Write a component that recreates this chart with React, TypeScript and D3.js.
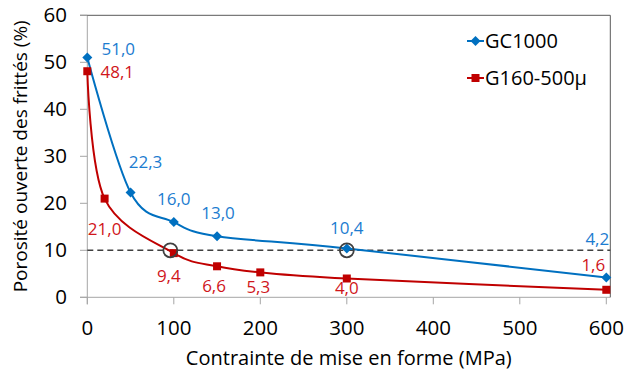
import React from "react";
import * as d3 from "d3";

const xTicks = [0, 100, 200, 300, 400, 500, 600];
const yTicks = [0, 10, 20, 30, 40, 50, 60];

const gcX = [0, 50, 100, 150, 300, 600];
const gcY = [51.0, 22.3, 16.0, 13.0, 10.4, 4.2];

const gX = [0, 20, 100, 150, 200, 300, 600];
const gY = [48.1, 21.0, 9.4, 6.6, 5.3, 4.0, 1.6];

const seriesNames = ["GC1000", "G160-500µ"];
const thresholdValue = 10;
const circledX = [96, 300];

// label placement offsets (px) relative to each point
const gcLabelOffsets = [[31, -9], [15, -30], [0, -23], [1, -23], [0, -20], [-9, -39]];
const gLabelOffsets = [[30, 1], [0, 30], [-5, 23], [-3, 20], [-2, 15], [0, 10], [-13, -25]];

const W = 624, H = 371;
const xs = d3.scaleLinear().domain([0, 600]).range([87.3, 606.3]);
const ys = d3.scaleLinear().domain([0, 60]).range([297.3, 15.3]);

const BLUE = "#0070C0";
const RED = "#C00000";
const BLUE_T = "#1C7CD0";
const RED_T = "#D0161B";
const FONT = "'Open Sans', sans-serif";

const fmt = (v: number) => v.toFixed(1).replace(".", ",");

const line = d3
  .line<[number, number]>()
  .x((d) => xs(d[0]))
  .y((d) => ys(d[1]))
  .curve(d3.curveCardinal.tension(0));

function Diamond({ x, y, c }: { x: number; y: number; c: string }) {
  const r = 5;
  return <path d={`M${x},${y - r}L${x + r},${y}L${x},${y + r}L${x - r},${y}Z`} fill={c} />;
}
function Square({ x, y, c }: { x: number; y: number; c: string }) {
  const s = 8;
  return <rect x={x - s / 2} y={y - s / 2} width={s} height={s} fill={c} />;
}

export default function App() {
  const gcPts = gcX.map((x, i) => [x, gcY[i]] as [number, number]);
  const gPts = gX.map((x, i) => [x, gY[i]] as [number, number]);
  const left = xs(0), right = 610.3, top = ys(60), bottom = ys(0);
  return (
    <svg width={W} height={H} style={{ position: "absolute", left: 0, top: 0, background: "#fff" }} fontFamily={FONT}>
      {/* axes and frame */}
      <line x1={80} x2={right} y1={bottom} y2={bottom} stroke="#A6A6A6" strokeWidth={1} />
      <line x1={left} x2={left} y1={top} y2={bottom + 7} stroke="#A6A6A6" strokeWidth={1} />
      <line x1={80} x2={right} y1={top} y2={top} stroke="#595959" strokeWidth={1} />
      <line x1={right} x2={right} y1={top} y2={bottom} stroke="#595959" strokeWidth={1} />
      {yTicks.map((t) => (
        <g key={"y" + t}>
          <line x1={80} x2={left} y1={ys(t)} y2={ys(t)} stroke="#A6A6A6" />
          <text x={67} y={ys(t)} dy="0.35em" textAnchor="end" fontSize={20.5} fill="#000">{t}</text>
        </g>
      ))}
      {xTicks.map((t) => (
        <g key={"x" + t}>
          <line x1={xs(t)} x2={xs(t)} y1={bottom} y2={bottom + 7} stroke="#A6A6A6" />
          <text x={xs(t)} y={328} dy="0.35em" textAnchor="middle" fontSize={20.5} fill="#000">{t}</text>
        </g>
      ))}
      <text x={(left + right) / 2} y={358} dy="0.35em" textAnchor="middle" fontSize={20} fill="#000">
        Contrainte de mise en forme (MPa)
      </text>
      <text transform={`translate(20,${(top + bottom) / 2}) rotate(-90)`} dy="0.35em" textAnchor="middle" fontSize={19} fill="#000">
        Porosité ouverte des frittés (%)
      </text>

      {/* threshold */}
      <line x1={left} x2={right} y1={ys(thresholdValue)} y2={ys(thresholdValue)} stroke="#404040" strokeWidth={1.5} strokeDasharray="6,4" />

      {/* series */}
      <path d={line(gcPts) || ""} fill="none" stroke={BLUE} strokeWidth={2} />
      <path d={line(gPts) || ""} fill="none" stroke={RED} strokeWidth={2} />
      {gcPts.map((p, i) => <Diamond key={"gd" + i} x={xs(p[0])} y={ys(p[1])} c={BLUE} />)}
      {gPts.map((p, i) => <Square key={"gs" + i} x={xs(p[0])} y={ys(p[1])} c={RED} />)}

      {circledX.map((cx, i) => (
        <circle key={"c" + i} cx={xs(cx)} cy={ys(thresholdValue)} r={7} fill="none" stroke="#404040" strokeWidth={1.8} />
      ))}

      {/* data labels */}
      {gcPts.map((p, i) => (
        <text key={"gl" + i} x={xs(p[0]) + gcLabelOffsets[i][0]} y={ys(p[1]) + gcLabelOffsets[i][1]} dy="0.35em" textAnchor="middle" fontSize={17} fill={BLUE_T}>
          {fmt(p[1])}
        </text>
      ))}
      {gPts.map((p, i) => (
        <text key={"rl" + i} x={xs(p[0]) + gLabelOffsets[i][0]} y={ys(p[1]) + gLabelOffsets[i][1]} dy="0.35em" textAnchor="middle" fontSize={17} fill={RED_T}>
          {fmt(p[1])}
        </text>
      ))}

      {/* legend */}
      <g>
        <line x1={467} x2={484} y1={41} y2={41} stroke={BLUE} strokeWidth={2} />
        <Diamond x={475.5} y={41} c={BLUE} />
        <text x={485} y={41} dy="0.35em" fontSize={20} fill="#000">{seriesNames[0]}</text>
        <line x1={467} x2={484} y1={78} y2={78} stroke={RED} strokeWidth={2} />
        <Square x={475.5} y={78} c={RED} />
        <text x={485} y={78} dy="0.35em" fontSize={20} fill="#000">{seriesNames[1]}</text>
      </g>
    </svg>
  );
}
